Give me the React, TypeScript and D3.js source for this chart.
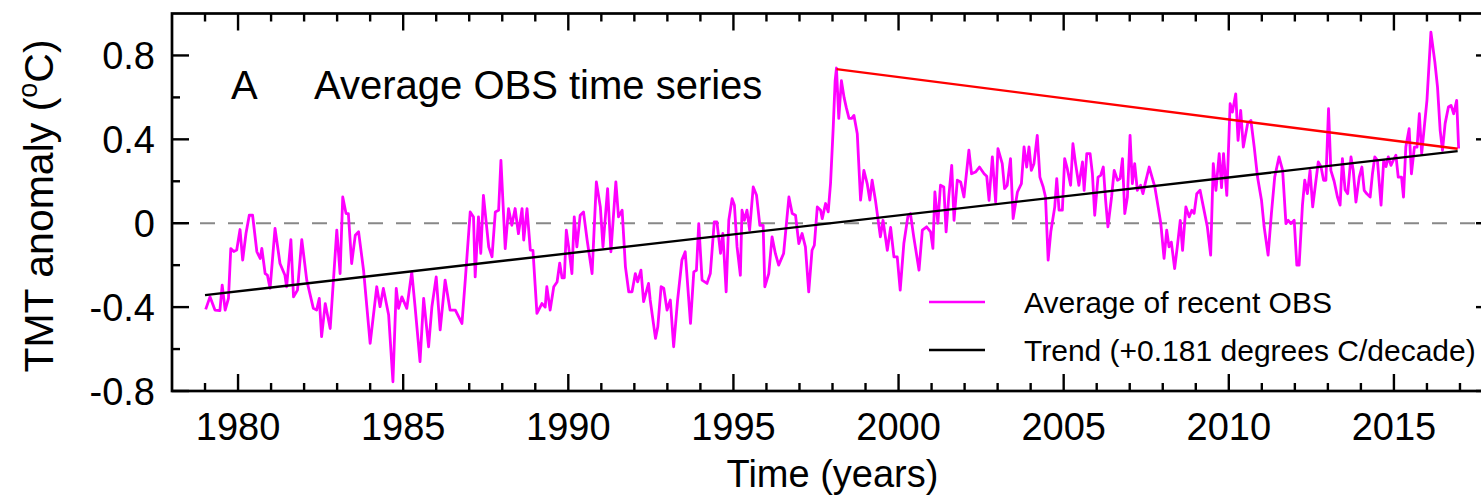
import React from "react";
import * as d3 from "d3";

// ---- data ----
const obs1979to1988: [number, number][] = [
  [1979.02,-0.411],[1979.15,-0.351],[1979.3,-0.414],[1979.45,-0.417],[1979.52,-0.295],[1979.61,-0.414],[1979.71,-0.358],[1979.78,-0.121],[1979.87,-0.135],[1979.96,-0.128],
  [1980.06,-0.03],[1980.14,-0.176],[1980.24,-0.049],[1980.34,0.038],[1980.44,0.038],[1980.57,-0.136],[1980.67,-0.168],[1980.72,-0.12],[1980.82,-0.24],[1980.89,-0.248],[1980.97,-0.311],
  [1981.12,-0.025],[1981.27,-0.192],[1981.42,-0.248],[1981.47,-0.303],[1981.6,-0.078],[1981.68,-0.351],[1981.8,-0.319],[1981.93,-0.078],
  [1982.08,-0.271],[1982.28,-0.406],[1982.38,-0.414],[1982.46,-0.358],[1982.53,-0.541],[1982.64,-0.383],[1982.79,-0.502],[1982.99,-0.033],
  [1983.09,-0.24],[1983.17,0.125],[1983.27,0.046],[1983.34,0.046],[1983.44,-0.192],[1983.55,-0.057],[1983.65,-0.041],[1983.8,-0.224],
  [1984.0,-0.573],[1984.2,-0.303],[1984.3,-0.398],[1984.4,-0.311],[1984.56,-0.438],[1984.69,-0.756],[1984.79,-0.311],[1984.86,-0.406],[1984.96,-0.351],
  [1985.11,-0.406],[1985.26,-0.232],[1985.36,-0.398],[1985.51,-0.66],[1985.62,-0.358],[1985.77,-0.589],[1985.87,-0.398],
  [1986.0,-0.256],[1986.12,-0.509],[1986.27,-0.271],[1986.42,-0.414],[1986.58,-0.414],[1986.78,-0.478],[1986.88,-0.271],
  [1987.03,0.054],[1987.13,0.03],[1987.18,-0.256],[1987.28,0.03],[1987.35,-0.144],[1987.43,0.133],[1987.59,-0.113],[1987.69,-0.16],[1987.79,0.054],[1987.89,0.062],[1987.96,0.3],
  [1988.09,-0.121],[1988.19,0.07],[1988.29,-0.01],[1988.39,0.07],[1988.49,-0.05],[1988.6,0.07],[1988.65,-0.08],[1988.75,0.07],[1988.85,-0.128],[1988.93,-0.13],
];
const obs1989to1998: [number, number][] = [
  [1989.05,-0.43],[1989.2,-0.383],[1989.3,-0.4],[1989.35,-0.303],[1989.45,-0.414],[1989.56,-0.303],[1989.66,-0.28],[1989.74,-0.19],[1989.81,-0.26],[1989.88,-0.26],[1989.94,-0.033],
  [1990.01,-0.113],[1990.11,-0.24],[1990.18,0.03],[1990.26,-0.113],[1990.36,0.038],[1990.46,0.054],[1990.57,-0.08],[1990.72,-0.24],[1990.85,0.197],[1990.97,0.078],
  [1991.05,-0.113],[1991.19,0.165],[1991.29,-0.136],[1991.44,0.197],[1991.52,0.03],[1991.63,0.062],[1991.73,-0.208],[1991.83,-0.327],[1991.93,-0.327],
  [1992.03,-0.24],[1992.1,-0.28],[1992.2,-0.224],[1992.28,-0.374],[1992.43,-0.287],[1992.48,-0.366],[1992.64,-0.549],[1992.71,-0.494],[1992.81,-0.303],[1992.89,-0.31],[1992.99,-0.414],
  [1993.09,-0.366],[1993.19,-0.589],[1993.31,-0.366],[1993.44,-0.176],[1993.54,-0.136],[1993.7,-0.478],[1993.8,-0.232],[1993.88,-0.224],[1993.95,-0.002],
  [1994.05,-0.271],[1994.2,-0.287],[1994.3,-0.24],[1994.42,0.006],[1994.5,0.006],[1994.61,-0.144],[1994.68,-0.049],[1994.78,-0.327],[1994.86,0.014],[1994.96,0.117],
  [1995.03,0.086],[1995.11,-0.113],[1995.21,-0.248],[1995.26,0.062],[1995.33,0.014],[1995.41,0.062],[1995.49,-0.033],[1995.6,0.173],[1995.7,0.133],[1995.8,-0.01],[1995.9,-0.01],[1995.95,-0.303],
  [1996.07,-0.24],[1996.17,-0.065],[1996.27,-0.144],[1996.37,-0.2],[1996.52,-0.144],[1996.68,0.125],[1996.78,0.046],[1996.88,0.038],[1996.98,-0.097],
  [1997.08,-0.049],[1997.18,-0.113],[1997.28,-0.327],[1997.38,-0.129],[1997.45,-0.105],[1997.54,0.078],[1997.64,0.062],[1997.69,0.022],[1997.79,0.094],[1997.87,0.054],[1997.94,0.189],
  [1998.02,0.45],[1998.08,0.68],[1998.12,0.74],[1998.19,0.5],[1998.27,0.68],[1998.35,0.6],[1998.42,0.55],[1998.5,0.5],[1998.58,0.5],[1998.65,0.514],[1998.75,0.427],[1998.85,0.11],[1998.95,0.252],
];
const obs1999to2008: [number, number][] = [
  [1999.05,0.189],[1999.13,0.11],[1999.2,0.205],[1999.3,0.11],[1999.45,-0.065],[1999.53,0.014],[1999.66,-0.129],[1999.76,-0.02],[1999.86,-0.16],[1999.96,-0.16],
  [2000.05,-0.319],[2000.16,-0.097],[2000.28,0.03],[2000.36,0.046],[2000.46,-0.065],[2000.62,-0.224],[2000.72,-0.033],[2000.85,-0.017],[2000.97,-0.041],
  [2001.04,-0.12],[2001.1,0.149],[2001.19,0.0],[2001.27,0.181],[2001.37,0.173],[2001.44,-0.041],[2001.52,0.125],[2001.61,0.276],[2001.68,0.014],[2001.78,0.205],[2001.88,0.197],[2001.98,0.125],
  [2002.13,0.348],[2002.21,0.236],[2002.33,0.244],[2002.45,0.268],[2002.59,0.236],[2002.67,0.224],[2002.74,0.109],[2002.84,0.316],[2002.94,0.101],
  [2003.01,0.356],[2003.14,0.284],[2003.21,0.165],[2003.29,0.181],[2003.39,0.308],[2003.47,0.022],[2003.6,0.149],[2003.72,0.189],[2003.8,0.364],[2003.88,0.268],[2003.95,0.364],
  [2004.02,0.252],[2004.1,0.284],[2004.2,0.419],[2004.28,0.22],[2004.38,0.173],[2004.45,0.125],[2004.53,-0.176],[2004.61,-0.041],[2004.73,0.078],[2004.79,0.213],[2004.86,0.062],[2004.96,0.062],
  [2005.03,0.308],[2005.11,0.26],[2005.21,0.181],[2005.28,0.379],[2005.36,0.284],[2005.46,0.181],[2005.57,0.292],[2005.62,0.157],[2005.7,0.332],[2005.8,0.332],[2005.87,0.236],[2005.94,0.038],
  [2006.04,0.22],[2006.12,0.228],[2006.2,0.268],[2006.27,0.109],[2006.34,-0.017],[2006.45,0.125],[2006.53,0.252],[2006.63,0.205],[2006.71,0.213],[2006.78,0.308],[2006.85,0.046],[2006.93,0.125],
  [2007.01,0.419],[2007.08,0.189],[2007.15,0.284],[2007.23,0.157],[2007.33,0.181],[2007.4,0.141],[2007.48,0.197],[2007.59,0.268],[2007.66,0.228],[2007.76,0.173],[2007.86,0.078],[2007.94,0.0],
  [2008.04,-0.168],[2008.12,-0.033],[2008.19,-0.113],[2008.26,-0.09],[2008.36,-0.216],[2008.44,-0.113],[2008.53,0.014],[2008.6,-0.129],[2008.7,0.078],[2008.8,0.03],[2008.88,0.062],[2008.95,0.047],
];
const obs2009to2016: [number, number][] = [
  [2009.03,0.141],[2009.13,0.157],[2009.23,0.078],[2009.35,-0.017],[2009.45,-0.152],[2009.53,0.284],[2009.61,0.157],[2009.71,0.332],[2009.78,0.17],[2009.84,0.332],[2009.94,0.133],
  [2010.04,0.57],[2010.11,0.53],[2010.21,0.617],[2010.28,0.395],[2010.36,0.538],[2010.44,0.363],[2010.57,0.475],[2010.67,0.49],[2010.77,0.363],[2010.87,0.22],[2010.99,0.11],
  [2011.07,-0.017],[2011.19,-0.152],[2011.29,0.046],[2011.39,0.22],[2011.52,0.316],[2011.63,0.252],[2011.73,-0.002],[2011.8,0.014],[2011.88,-0.002],[2011.98,0.014],
  [2012.06,-0.2],[2012.13,-0.2],[2012.23,0.086],[2012.3,0.205],[2012.38,0.141],[2012.46,0.252],[2012.54,0.078],[2012.64,0.205],[2012.71,0.292],[2012.79,0.27],[2012.87,0.205],[2012.94,0.205],
  [2013.02,0.546],[2013.09,0.252],[2013.19,0.2],[2013.29,0.125],[2013.37,0.086],[2013.44,0.308],[2013.52,0.16],[2013.6,0.141],[2013.7,0.316],[2013.77,0.25],[2013.85,0.101],[2013.95,0.22],
  [2014.03,0.268],[2014.1,0.157],[2014.18,0.14],[2014.28,0.125],[2014.35,0.236],[2014.42,0.316],[2014.5,0.3],[2014.61,0.086],[2014.69,0.3],[2014.76,0.27],[2014.83,0.316],[2014.91,0.276],[2014.98,0.3],
  [2015.06,0.324],[2015.13,0.22],[2015.23,0.22],[2015.29,0.125],[2015.36,0.363],[2015.46,0.451],[2015.53,0.236],[2015.62,0.363],[2015.7,0.363],[2015.77,0.522],[2015.84,0.332],[2015.92,0.459],
  [2016.0,0.586],[2016.12,0.911],[2016.24,0.768],[2016.32,0.649],[2016.4,0.443],[2016.47,0.348],[2016.55,0.475],[2016.65,0.554],[2016.73,0.562],[2016.81,0.522],[2016.9,0.586],[2016.96,0.356],
];

const trendLine: [number, number][] = [[1979.0, -0.343], [2016.93, 0.344]];
const hiatusLine: [number, number][] = [[1998.12, 0.735], [2016.93, 0.355]];

const xMajorTicks = [1980, 1985, 1990, 1995, 2000, 2005, 2010, 2015];
const xMinorTicks = [1979,1981,1982,1983,1984,1986,1987,1988,1989,1991,1992,1993,1994,1996,1997,1998,1999,2001,2002,2003,2004,2006,2007,2008,2009,2011,2012,2013,2014,2016,2017];
const yMajorTicks = [-0.8, -0.4, 0, 0.4, 0.8];
const yTickLabels = ["-0.8", "-0.4", "0", "0.4", "0.8"];
const yMinorTicks = [-0.6, -0.2, 0.2, 0.6];

const legendLabels = ["Average of recent OBS", "Trend (+0.181 degrees C/decade)"];
const legendColors = ["#ff00ff", "#000000"];

const FONT = "'Liberation Sans', Arial, Helvetica, sans-serif";

export default function App() {
  const W = 1481, H = 497;
  const left = 172, right = 1493, top = 13.5, bottom = 391;
  const x = d3.scaleLinear().domain([1978, 2018]).range([left, right]);
  const y = d3.scaleLinear().domain([-0.8, 1.0]).range([bottom, top]);
  const line = d3.line<[number, number]>().x(d => x(d[0])).y(d => y(d[1]));
  const obs = [...obs1979to1988, ...obs1989to1998, ...obs1999to2008, ...obs2009to2016];

  return (
    <svg width={W} height={H} style={{ position: "absolute", left: 0, top: 0, background: "#fff" }} fontFamily={FONT}>
      {/* zero line */}
      <line x1={left} x2={right} y1={y(0)} y2={y(0)} stroke="#888" strokeWidth={2} strokeDasharray="15 13" />
      {/* data */}
      <path d={line(obs) ?? ""} fill="none" stroke="#ff00ff" strokeWidth={2.8} strokeLinejoin="round" />
      <path d={line(trendLine) ?? ""} fill="none" stroke="#000" strokeWidth={2.4} />
      <path d={line(hiatusLine) ?? ""} fill="none" stroke="#ff0000" strokeWidth={2.4} />

      {/* frame */}
      <rect x={left} y={top} width={right - left} height={bottom - top} fill="none" stroke="#000" strokeWidth={2.7} />
      {/* x ticks */}
      {xMajorTicks.map(t => (
        <g key={"xM" + t}>
          <line x1={x(t)} x2={x(t)} y1={bottom} y2={bottom - 17} stroke="#000" strokeWidth={2.4} />
          <line x1={x(t)} x2={x(t)} y1={top} y2={top + 17} stroke="#000" strokeWidth={2.4} />
          <text x={x(t)} y={440} textAnchor="middle" fontSize={38}>{t}</text>
        </g>
      ))}
      {xMinorTicks.map(t => (
        <g key={"xm" + t}>
          <line x1={x(t)} x2={x(t)} y1={bottom} y2={bottom - 8} stroke="#000" strokeWidth={2.4} />
          <line x1={x(t)} x2={x(t)} y1={top} y2={top + 8} stroke="#000" strokeWidth={2.4} />
        </g>
      ))}
      {/* y ticks */}
      {yMajorTicks.map((t, i) => (
        <g key={"yM" + t}>
          <line x1={left} x2={left + 17} y1={y(t)} y2={y(t)} stroke="#000" strokeWidth={2.4} />
          <line x1={right} x2={right - 17} y1={y(t)} y2={y(t)} stroke="#000" strokeWidth={2.4} />
          <text x={155} y={y(t)} dy="0.36em" textAnchor="end" fontSize={38}>{yTickLabels[i]}</text>
        </g>
      ))}
      {yMinorTicks.map(t => (
        <g key={"ym" + t}>
          <line x1={left} x2={left + 8} y1={y(t)} y2={y(t)} stroke="#000" strokeWidth={2.4} />
          <line x1={right} x2={right - 8} y1={y(t)} y2={y(t)} stroke="#000" strokeWidth={2.4} />
        </g>
      ))}

      {/* axis titles */}
      <text x={(left + right) / 2} y={487} textAnchor="middle" fontSize={38}>Time (years)</text>
      <text transform={`translate(53,206) rotate(-90)`} textAnchor="middle" fontSize={41}>
        TMT anomaly (<tspan fontSize={27} dy={-16}>o</tspan><tspan dy={16}>C)</tspan>
      </text>

      {/* panel title */}
      <text x={231} y={99} fontSize={40}>A</text>
      <text x={314} y={99} fontSize={40}>Average OBS time series</text>

      {/* legend */}
      {legendLabels.map((lab, i) => (
        <g key={lab}>
          <line x1={929} x2={985} y1={302 + i * 48} y2={302 + i * 48} stroke={legendColors[i]} strokeWidth={2.6} />
          <text x={1024} y={302 + i * 48} dy="0.35em" fontSize={30}>{lab}</text>
        </g>
      ))}
    </svg>
  );
}
